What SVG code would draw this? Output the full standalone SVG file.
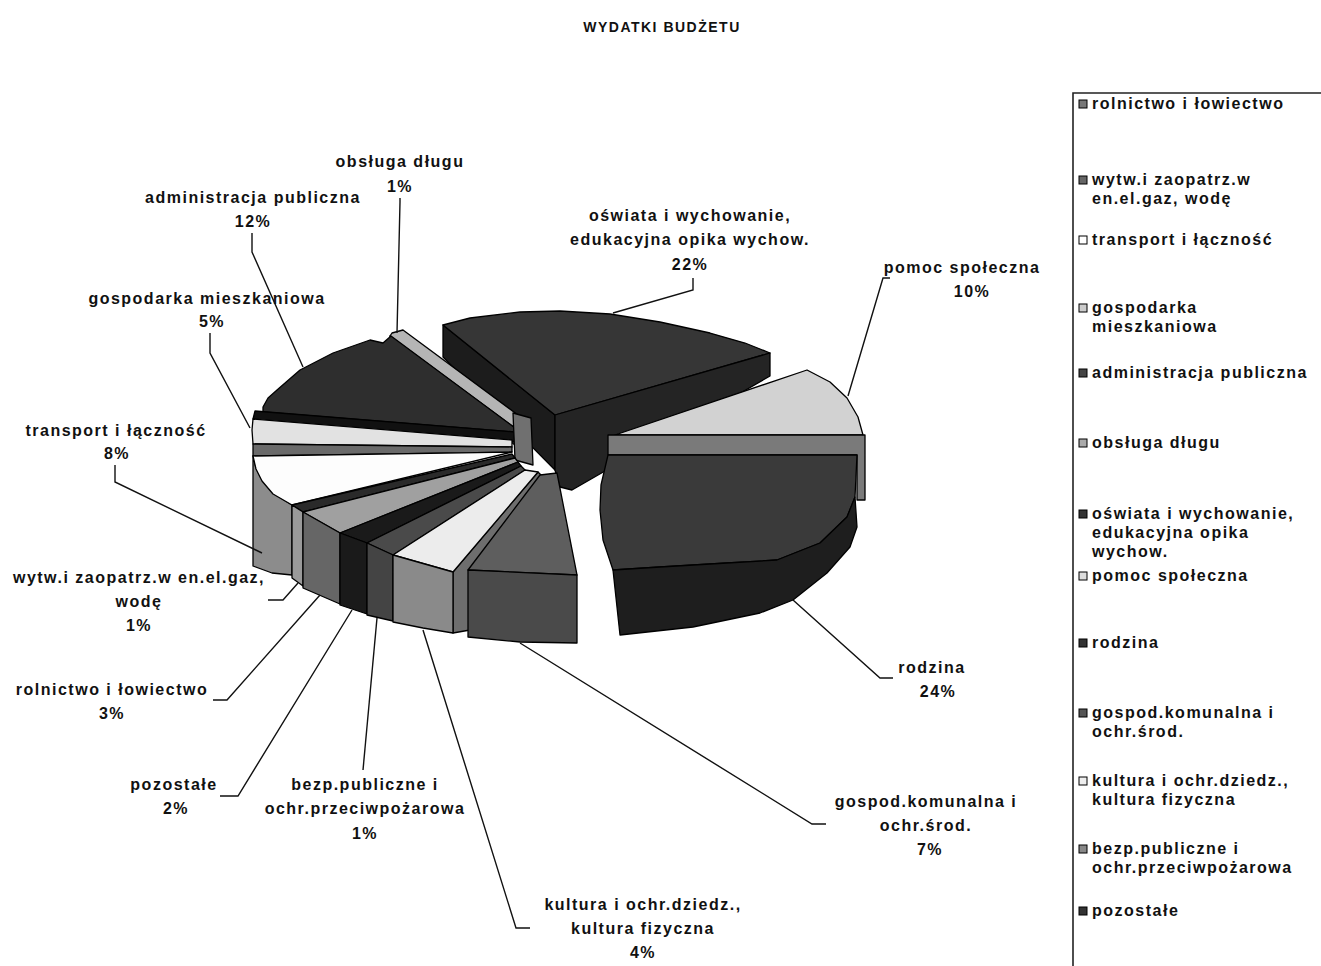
<svg xmlns="http://www.w3.org/2000/svg" width="1321" height="966" viewBox="0 0 1321 966">
<style>
.t{font-family:"Liberation Sans",Arial,sans-serif;font-weight:bold;font-size:16px;letter-spacing:1.5px;fill:#111}
.c{text-anchor:middle}
.ld{fill:none;stroke:#111;stroke-width:1.4}
.f{stroke:#000;stroke-width:1.3;stroke-linejoin:round}
.ic{stroke:#000;stroke-width:1}
</style>
<rect width="1321" height="966" fill="#fff"/>
<text class="t c" x="662" y="32" style="font-size:14px">WYDATKI BUDŻETU</text>

<g id="slice-oswiata">
<path class="f" fill="#1c1c1c" d="M443,325 L555,415 L555,470 L443,357 Z"/>
<path class="f" fill="#363636" d="M443,325 L470,318 L520,312 L560,311 L610,314 L660,322 L710,333 L745,343 L770,353 L555,415 Z"/>
<path class="f" fill="#242424" d="M770,353 L770,376 L572,490 L560,487 L555,470 L555,415 Z"/>
</g>
<g id="slice-obsluga">
<path class="f" fill="#6a6a6a" d="M390,336 L515,428 L515,445 L390,350 Z"/>
<path class="f" fill="#b5b5b5" d="M392,333 L403,330 L522,418 L515,428 L390,336 Z"/>
</g>
<g id="slice-administracja">
<path class="f" fill="#2e2e2e" d="M263,407 L268,398 L277,390 L300,370 L333,353 L370,340 L383,343 L391,336 L515,428 L515,432 L263,412 Z"/>
<path class="f" fill="#111" d="M255,411 L515,432 L515,442 L253,419 Z"/>
</g>
<g id="slice-center">
<path class="f" fill="#707070" d="M513,413 L531,418 L533,465 L515,460 Z"/>
</g>
<g id="slice-gospodarka-mieszkaniowa">
<path class="f" fill="#e2e2e2" d="M253,419 L512,440 L512,447 L253,444 L252,430 Z"/>
<path class="f" fill="#6a6a6a" d="M253,444 L512,447 L512,452 L253,456 Z"/>
</g>
<g id="slice-transport">
<path class="f" fill="#8c8c8c" d="M253,456 L256,468 L262,480 L273,493 L292,505 L292,575 L272,573 L253,566 Z"/>
<path class="f" fill="#fdfdfd" d="M253,456 L512,452 L292,505 L273,494 L262,481 L256,469 Z"/>
</g>
<g id="slice-wytw">
<path class="f" fill="#2a2a2a" d="M292,505 L512,454 L515,458 L303,512 Z"/>
<path class="f" fill="#9a9a9a" d="M292,505 L303,512 L303,586 L292,578 Z"/>
</g>
<g id="slice-rolnictwo">
<path class="f" fill="#a0a0a0" d="M303,512 L515,458 L518,462 L340,533 Z"/>
<path class="f" fill="#666" d="M303,512 L340,533 L340,604 L303,588 Z"/>
</g>
<g id="slice-pozostale">
<path class="f" fill="#1a1a1a" d="M340,533 L518,462 L521,466 L367,543 Z"/>
<path class="f" fill="#1a1a1a" d="M340,533 L367,543 L367,614 L340,605 Z"/>
</g>
<g id="slice-bezp">
<path class="f" fill="#4a4a4a" d="M367,543 L521,466 L525,470 L393,555 Z"/>
<path class="f" fill="#444" d="M367,543 L393,555 L393,621 L367,615 Z"/>
</g>
<g id="slice-kultura">
<path class="f" fill="#6e6e6e" d="M453,572 L538,472 L546,480 L470,630 L453,633 Z"/>
<path class="f" fill="#ececec" d="M393,555 L525,470 L538,472 L453,572 Z"/>
<path class="f" fill="#8a8a8a" d="M393,555 L453,572 L453,633 L423,628 L393,622 Z"/>
</g>
<g id="slice-gospod-komunalna">
<path class="f" fill="#5e5e5e" d="M540,475 L557,473 L577,575 L468,570 Z"/>
<path class="f" fill="#4a4a4a" d="M468,570 L577,575 L577,643 L520,642 L468,637 Z"/>
</g>
<g id="slice-pomoc">
<path class="f" fill="#d2d2d2" d="M615,435 L807,370 L830,382 L847,398 L858,417 L863,435 Z"/>
<path class="f" fill="#7a7a7a" d="M608,435 L865,435 L865,500 L857,500 L857,455 L608,455 Z"/>
</g>
<g id="slice-rodzina">
<path class="f" fill="#3a3a3a" d="M608,455 L857,455 L855,497 L847,517 L820,543 L777,560 L727,563 L660,567 L613,570 L603,540 L600,510 L601,485 Z"/>
<path class="f" fill="#1e1e1e" d="M613,570 L660,567 L727,563 L777,560 L820,543 L847,517 L855,497 L857,527 L850,547 L827,573 L793,600 L760,613 L693,627 L620,635 Z"/>
</g>

<g id="connectors">
<path class="ld" d="M400,198 L400,202 L397,333"/>
<path class="ld" d="M252,233 L252,252 L303,367"/>
<path class="ld" d="M210,333 L210,353 L250,428"/>
<path class="ld" d="M115,465 L115,482 L262,553"/>
<path class="ld" d="M268,600 L283,600 L298,583"/>
<path class="ld" d="M213,700 L227,700 L320,595"/>
<path class="ld" d="M220,796 L238,796 L352,610"/>
<path class="ld" d="M363,770 L377,618"/>
<path class="ld" d="M530,928 L516,928 L423,630"/>
<path class="ld" d="M826,824 L812,824 L520,643"/>
<path class="ld" d="M893,678 L880,678 L793,600"/>
<path class="ld" d="M693,278 L693,290 L613,313"/>
<path class="ld" d="M890,278 L883,278 L848,396"/>
</g>

<g id="labels">
<text class="t c" x="400" y="167">obsługa długu</text>
<text class="t c" x="400" y="192">1%</text>
<text class="t c" x="253" y="203">administracja publiczna</text>
<text class="t c" x="253" y="227">12%</text>
<text class="t c" x="690" y="221">oświata i wychowanie,</text>
<text class="t c" x="690" y="245">edukacyjna opika wychow.</text>
<text class="t c" x="690" y="270">22%</text>
<text class="t c" x="962" y="273">pomoc społeczna</text>
<text class="t c" x="972" y="297">10%</text>
<text class="t c" x="207" y="304">gospodarka mieszkaniowa</text>
<text class="t c" x="212" y="327">5%</text>
<text class="t c" x="116" y="436">transport i łączność</text>
<text class="t c" x="117" y="459">8%</text>
<text class="t c" x="139" y="583">wytw.i zaopatrz.w en.el.gaz,</text>
<text class="t c" x="139" y="607">wodę</text>
<text class="t c" x="139" y="631">1%</text>
<text class="t c" x="112" y="695">rolnictwo i łowiectwo</text>
<text class="t c" x="112" y="719">3%</text>
<text class="t c" x="174" y="790">pozostałe</text>
<text class="t c" x="176" y="814">2%</text>
<text class="t c" x="365" y="790">bezp.publiczne i</text>
<text class="t c" x="365" y="814">ochr.przeciwpożarowa</text>
<text class="t c" x="365" y="839">1%</text>
<text class="t c" x="932" y="673">rodzina</text>
<text class="t c" x="938" y="697">24%</text>
<text class="t c" x="926" y="807">gospod.komunalna i</text>
<text class="t c" x="926" y="831">ochr.środ.</text>
<text class="t c" x="930" y="855">7%</text>
<text class="t c" x="643" y="910">kultura i ochr.dziedz.,</text>
<text class="t c" x="643" y="934">kultura fizyczna</text>
<text class="t c" x="643" y="958">4%</text>
</g>

<g id="legend">
<path fill="none" stroke="#222" stroke-width="1.6" d="M1073,966 L1073,93 L1321,93"/>
<rect class="ic" x="1079" y="100" width="8" height="8" fill="#777"/>
<text class="t" x="1092" y="109">rolnictwo i łowiectwo</text>
<rect class="ic" x="1079" y="176" width="8" height="8" fill="#666"/>
<text class="t" x="1092" y="185">wytw.i zaopatrz.w</text>
<text class="t" x="1092" y="204">en.el.gaz, wodę</text>
<rect class="ic" x="1079" y="236" width="8" height="8" fill="#fff"/>
<text class="t" x="1092" y="245">transport i łączność</text>
<rect class="ic" x="1079" y="304" width="8" height="8" fill="#ccc"/>
<text class="t" x="1092" y="313">gospodarka</text>
<text class="t" x="1092" y="332">mieszkaniowa</text>
<rect class="ic" x="1079" y="369" width="8" height="8" fill="#444"/>
<text class="t" x="1092" y="378">administracja publiczna</text>
<rect class="ic" x="1079" y="439" width="8" height="8" fill="#aaa"/>
<text class="t" x="1092" y="448">obsługa długu</text>
<rect class="ic" x="1079" y="510" width="8" height="8" fill="#333"/>
<text class="t" x="1092" y="519">oświata i wychowanie,</text>
<text class="t" x="1092" y="538">edukacyjna opika</text>
<text class="t" x="1092" y="557">wychow.</text>
<rect class="ic" x="1079" y="572" width="8" height="8" fill="#ddd"/>
<text class="t" x="1092" y="581">pomoc społeczna</text>
<rect class="ic" x="1079" y="639" width="8" height="8" fill="#333"/>
<text class="t" x="1092" y="648">rodzina</text>
<rect class="ic" x="1079" y="709" width="8" height="8" fill="#555"/>
<text class="t" x="1092" y="718">gospod.komunalna i</text>
<text class="t" x="1092" y="737">ochr.środ.</text>
<rect class="ic" x="1079" y="777" width="8" height="8" fill="#eee"/>
<text class="t" x="1092" y="786">kultura i ochr.dziedz.,</text>
<text class="t" x="1092" y="805">kultura fizyczna</text>
<rect class="ic" x="1079" y="845" width="8" height="8" fill="#888"/>
<text class="t" x="1092" y="854">bezp.publiczne i</text>
<text class="t" x="1092" y="873">ochr.przeciwpożarowa</text>
<rect class="ic" x="1079" y="907" width="8" height="8" fill="#333"/>
<text class="t" x="1092" y="916">pozostałe</text>
</g>
</svg>
